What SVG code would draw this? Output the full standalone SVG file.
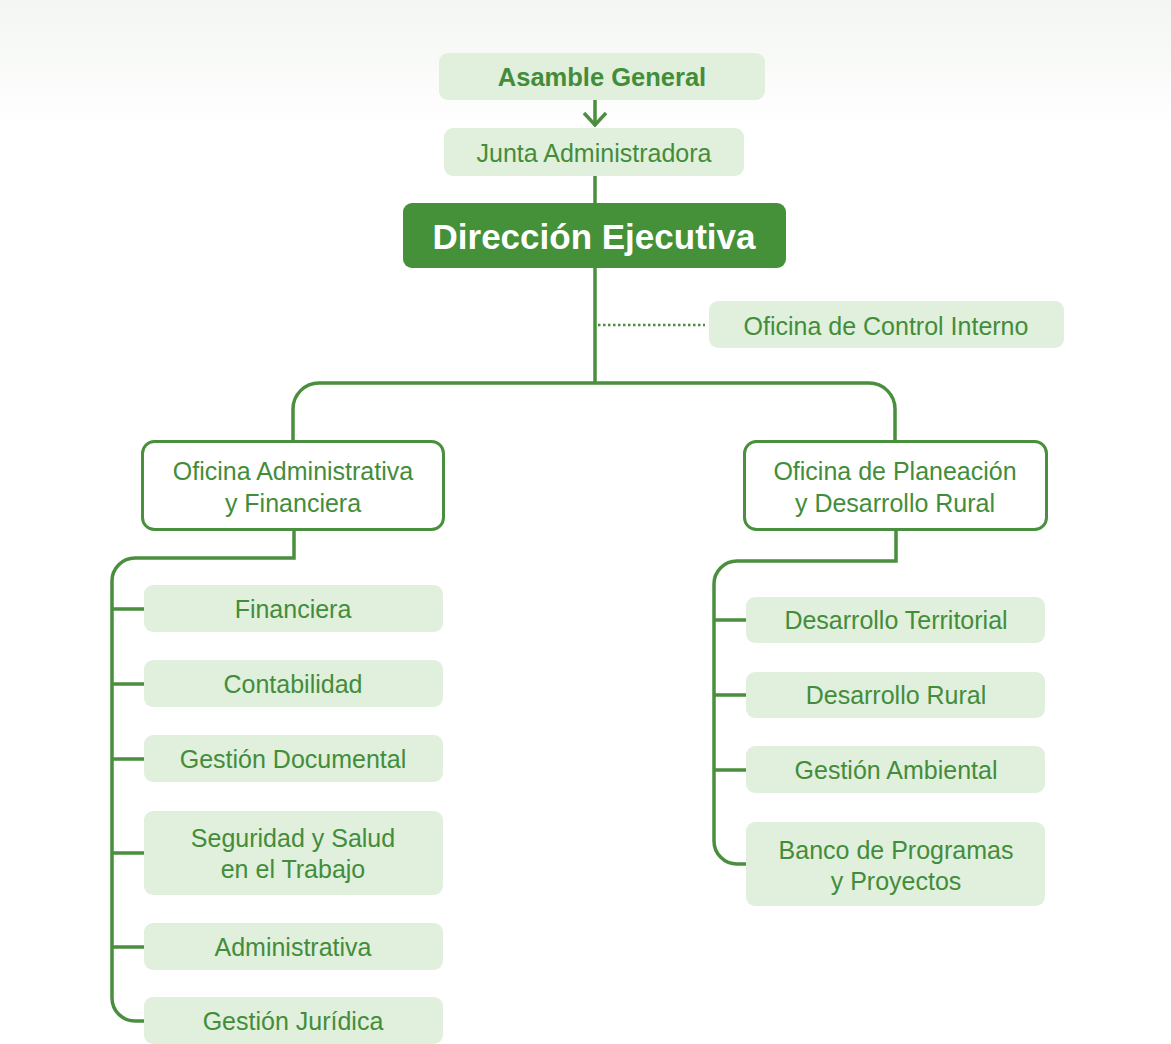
<svg xmlns="http://www.w3.org/2000/svg" width="1171" height="1044" viewBox="0 0 1171 1044">
<defs>
<linearGradient id="bg" x1="0" y1="0" x2="0" y2="1">
<stop offset="0" stop-color="#f3f6f2"/>
<stop offset="1" stop-color="#ffffff"/>
</linearGradient>
</defs>
<style>
.light{fill:#e1efdd}
.outline{fill:#ffffff;stroke:#4a8f3d;stroke-width:3}
.dark{fill:#44913a}
.t{font-family:"Liberation Sans",Arial,Helvetica,sans-serif;font-size:25px;fill:#438d3a;text-anchor:middle}
.b{font-weight:bold;font-size:25.5px}
.w{fill:#ffffff;font-size:35px;font-weight:bold}
.c{fill:none;stroke:#4a8f3d;stroke-width:3.5;stroke-linecap:butt}
.dot{fill:none;stroke:#4a8f3d;stroke-width:2.5;stroke-dasharray:2.5 2.5}
</style>
<rect x="0" y="0" width="1171" height="1044" fill="#ffffff"/>
<rect x="0" y="0" width="1171" height="130" fill="url(#bg)"/>
<g id="connectors">
<line class="c" x1="595" y1="100" x2="595" y2="126"/>
<path class="c" d="M584,113 L595,125 L606,113"/>
<line class="c" x1="595" y1="176" x2="595" y2="204"/>
<line class="c" x1="595" y1="268" x2="595" y2="384"/>
<line class="dot" x1="598" y1="325" x2="705" y2="325"/>
<path class="c" d="M293,441 V409 A26,26 0 0 1 319,383 H869 A26,26 0 0 1 895,409 V441"/>
<path class="c" d="M294,530 V558 H135 A23,23 0 0 0 112,581 V998 A23,23 0 0 0 135,1021 H144"/>
<path class="c" d="M112,609 H144 M112,684 H144 M112,759 H144 M112,853 H144 M112,947 H144"/>
<path class="c" d="M896,530 V561 H737 A23,23 0 0 0 714,584 V841 A23,23 0 0 0 737,864 H746"/>
<path class="c" d="M714,620 H746 M714,695 H746 M714,770 H746"/>
</g>
<g id="asamble"><rect class="light" x="439" y="53" width="326" height="47" rx="9"/><text class="t b" x="602" y="86">Asamble General</text></g>
<g id="junta"><rect class="light" x="444" y="128" width="300" height="48" rx="9"/><text class="t" x="594" y="162">Junta Administradora</text></g>
<g id="direccion"><rect class="dark" x="403" y="203" width="383" height="65" rx="9"/><text class="t w" x="594" y="249">Dirección Ejecutiva</text></g>
<g id="control"><rect class="light" x="709" y="301" width="355" height="47" rx="9"/><text class="t" x="886" y="335">Oficina de Control Interno</text></g>
<g id="ofi-adm"><rect class="outline" x="142.5" y="441.5" width="301" height="88" rx="12"/><text class="t" x="293" y="480">Oficina Administrativa</text><text class="t" x="293" y="512">y Financiera</text></g>
<g id="ofi-plan"><rect class="outline" x="744.5" y="441.5" width="302" height="88" rx="12"/><text class="t" x="895" y="480">Oficina de Planeación</text><text class="t" x="895" y="512">y Desarrollo Rural</text></g>
<g id="financiera"><rect class="light" x="144" y="585" width="299" height="47" rx="9"/><text class="t" x="293" y="618">Financiera</text></g>
<g id="contabilidad"><rect class="light" x="144" y="660" width="299" height="47" rx="9"/><text class="t" x="293" y="693">Contabilidad</text></g>
<g id="gestion-doc"><rect class="light" x="144" y="735" width="299" height="47" rx="9"/><text class="t" x="293" y="768">Gestión Documental</text></g>
<g id="seguridad"><rect class="light" x="144" y="811" width="299" height="84" rx="9"/><text class="t" x="293" y="847">Seguridad y Salud</text><text class="t" x="293" y="878">en el Trabajo</text></g>
<g id="administrativa"><rect class="light" x="144" y="923" width="299" height="47" rx="9"/><text class="t" x="293" y="956">Administrativa</text></g>
<g id="juridica"><rect class="light" x="144" y="997" width="299" height="47" rx="9"/><text class="t" x="293" y="1030">Gestión Jurídica</text></g>
<g id="territorial"><rect class="light" x="746" y="597" width="299" height="46" rx="9"/><text class="t" x="896" y="629">Desarrollo Territorial</text></g>
<g id="rural"><rect class="light" x="746" y="672" width="299" height="46" rx="9"/><text class="t" x="896" y="704">Desarrollo Rural</text></g>
<g id="ambiental"><rect class="light" x="746" y="746" width="299" height="47" rx="9"/><text class="t" x="896" y="779">Gestión Ambiental</text></g>
<g id="banco"><rect class="light" x="746" y="822" width="299" height="84" rx="9"/><text class="t" x="896" y="859">Banco de Programas</text><text class="t" x="896" y="890">y Proyectos</text></g>
</svg>
